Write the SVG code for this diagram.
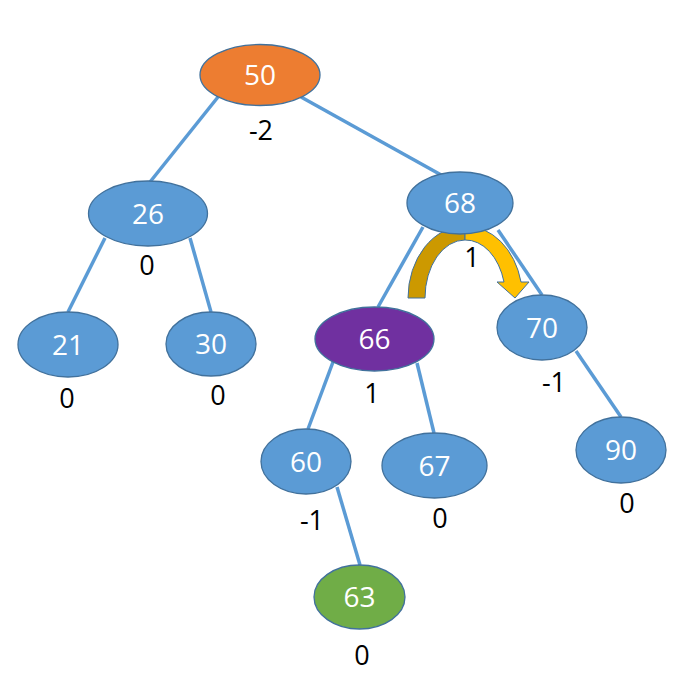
<svg xmlns="http://www.w3.org/2000/svg" width="698" height="685" viewBox="0 0 698 685">
<style>
.edge{stroke:#5B9BD5;stroke-width:3.5;fill:none}
.node{stroke:#41719C;stroke-width:1.3}
.blue{fill:#5B9BD5}
.nt{font-family:"Open Sans","Liberation Sans",sans-serif;font-size:28px;fill:#FFFFFF;text-anchor:middle}
.bf{font-family:"Open Sans","Liberation Sans",sans-serif;font-size:27px;fill:#000000;text-anchor:middle}
</style>
<rect width="698" height="685" fill="#FFFFFF"/>
<g id="connectors">
<line class="edge" x1="218" y1="97" x2="150" y2="182"/>
<line class="edge" x1="301" y1="97" x2="443" y2="176"/>
<line class="edge" x1="105" y1="238" x2="68" y2="312"/>
<line class="edge" x1="190" y1="238" x2="211" y2="312"/>
<line class="edge" x1="423" y1="227" x2="378" y2="307"/>
<line class="edge" x1="498" y1="230" x2="542" y2="295"/>
<line class="edge" x1="333" y1="362" x2="308" y2="429"/>
<line class="edge" x1="417" y1="363" x2="434" y2="433"/>
<line class="edge" x1="337" y1="487" x2="360" y2="565"/>
<line class="edge" x1="576" y1="351" x2="621" y2="417"/>
</g>
<g id="rotation-arrow" stroke="#41719C" stroke-width="1">
<path d="M408,298 A57,72 0 0 1 465,226 L465,240 A40,58 0 0 0 425,298 Z" fill="#CC9900"/>
<path d="M465,226 A57,72 0 0 1 521,282 L529,282 L515,298 L497,282 L504,282 A40,58 0 0 0 465,240 Z" fill="#FFC000"/>
</g>
<g id="n50"><ellipse class="node" cx="260" cy="75" rx="60" ry="30.5" fill="#ED7D31"/><text class="nt" x="260" y="85">50</text><text class="bf" x="261" y="140">-2</text></g>
<g id="n26"><ellipse class="node blue" cx="148" cy="213.5" rx="59.5" ry="32.5"/><text class="nt" x="148" y="223.5">26</text><text class="bf" x="147" y="275">0</text></g>
<g id="n68"><ellipse class="node blue" cx="460" cy="203" rx="53" ry="31"/><text class="nt" x="460" y="213">68</text><text class="bf" x="472" y="267">1</text></g>
<g id="n21"><ellipse class="node blue" cx="68" cy="344.5" rx="50" ry="32.5"/><text class="nt" x="68" y="354.5">21</text><text class="bf" x="67" y="408">0</text></g>
<g id="n30"><ellipse class="node blue" cx="211" cy="344" rx="45" ry="32"/><text class="nt" x="211" y="354">30</text><text class="bf" x="218" y="405">0</text></g>
<g id="n66"><ellipse class="node" cx="374.5" cy="339" rx="59.5" ry="32" fill="#7030A0"/><text class="nt" x="374.5" y="349">66</text><text class="bf" x="372" y="403">1</text></g>
<g id="n70"><ellipse class="node blue" cx="542" cy="327.5" rx="45" ry="32.5"/><text class="nt" x="542" y="337.5">70</text><text class="bf" x="554" y="392">-1</text></g>
<g id="n60"><ellipse class="node blue" cx="306" cy="461.5" rx="45" ry="32.5"/><text class="nt" x="306" y="471.5">60</text><text class="bf" x="312" y="530">-1</text></g>
<g id="n67"><ellipse class="node blue" cx="434.5" cy="465.5" rx="52.5" ry="32.5"/><text class="nt" x="434.5" y="475.5">67</text><text class="bf" x="440" y="528">0</text></g>
<g id="n90"><ellipse class="node blue" cx="621" cy="450" rx="45" ry="33"/><text class="nt" x="621" y="460">90</text><text class="bf" x="627" y="513">0</text></g>
<g id="n63"><ellipse class="node" cx="359.5" cy="597" rx="45.5" ry="32" fill="#70AD47"/><text class="nt" x="359.5" y="607">63</text><text class="bf" x="362" y="665">0</text></g>
</svg>
